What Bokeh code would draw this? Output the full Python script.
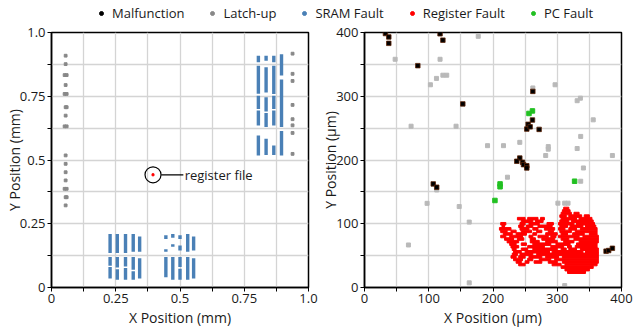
from bokeh.plotting import figure
from bokeh.layouts import column, row
from bokeh.models import FixedTicker, Legend, LegendItem, Range1d, Label
from bokeh.embed import file_html
from bokeh.resources import INLINE

FONT = "Open Sans"

# ---------------- data: left panel (mm) ----------------
# SRAM fault strips: x position, y start, y end
sram_x = [0.228, 0.228, 0.228,
          0.256, 0.256, 0.256,
          0.288, 0.288, 0.288,
          0.318, 0.318, 0.318,
          0.343, 0.343,
          0.445, 0.445, 0.445,
          0.472, 0.472, 0.472,
          0.500, 0.500, 0.500, 0.500,
          0.530, 0.530,
          0.553, 0.553,
          0.805, 0.805, 0.805, 0.805, 0.805,
          0.835, 0.835, 0.835, 0.835, 0.835,
          0.865, 0.865, 0.865, 0.865, 0.865,
          0.895, 0.895, 0.895]
sram_y0 = [0.135, 0.035, 0.085,
           0.135, 0.030, 0.078,
           0.135, 0.030, 0.082,
           0.140, 0.030, 0.070,
           0.140, 0.035,
           0.190, 0.140, 0.040,
           0.195, 0.160, 0.030,
           0.190, 0.145, 0.030, 0.080,
           0.140, 0.030,
           0.145, 0.035,
           0.883, 0.760, 0.700, 0.635, 0.518,
           0.889, 0.765, 0.690, 0.629, 0.520,
           0.883, 0.759, 0.700, 0.635, 0.520,
           0.831, 0.629, 0.518]
sram_y1 = [0.210, 0.080, 0.120,
           0.210, 0.072, 0.120,
           0.210, 0.076, 0.120,
           0.210, 0.064, 0.120,
           0.200, 0.115,
           0.205, 0.150, 0.120,
           0.210, 0.170, 0.120,
           0.205, 0.165, 0.074, 0.120,
           0.210, 0.120,
           0.200, 0.115,
           0.909, 0.870, 0.752, 0.694, 0.596,
           0.909, 0.864, 0.746, 0.684, 0.583,
           0.909, 0.870, 0.752, 0.694, 0.557,
           0.915, 0.816, 0.614]

latchL_x = [0.055, 0.055, 0.051, 0.059, 0.055, 0.051, 0.059, 0.055, 0.059, 0.055, 0.051, 0.059,
            0.055, 0.055, 0.055, 0.055, 0.051, 0.059, 0.055, 0.059, 0.055,
            0.938, 0.938, 0.938, 0.938, 0.938, 0.938, 0.938, 0.938]
latchL_y = [0.909, 0.876, 0.833, 0.833, 0.794, 0.759, 0.759, 0.707, 0.707, 0.674, 0.632, 0.632,
            0.518, 0.485, 0.452, 0.420, 0.387, 0.387, 0.354, 0.354, 0.322,
            0.917, 0.838, 0.810, 0.716, 0.660, 0.636, 0.606, 0.524]

reg_file_x = 0.395
reg_file_y = 0.442

# ---------------- data: right panel (um) ----------------
malf_x = [32.6, 37.8, 37.8, 83, 117.6, 122, 153, 262, 254.7, 252.6, 261.4, 271.8, 257.8,
          241.7, 237, 246, 247.5, 252.6, 252.6, 107, 112.4, 376, 380, 385.8]
malf_y = [398.4, 393, 383, 348, 398, 388, 288, 307.6, 256, 248.5, 262.7, 248, 252,
          203, 198, 196.4, 192.7, 191, 187.5, 162.5, 157.3, 57, 58, 61.5]

latch_x = [47.7, 72.5, 102.6, 112, 117.6, 122, 128, 142.5, 177, 296.6, 262, 331, 336, 356,
           336.5, 191.5, 216.3, 241.7, 286, 286, 331, 282, 385.8, 340.7, 222.5, 336.5,
           147.4, 301, 311.6, 316.8, 163, 163, 311.6, 112.4, 97.4, 68.4]
latch_y = [358, 253, 318, 328, 358, 333, 333, 253, 394, 318, 313, 293, 297, 263,
           237, 222.5, 222.5, 227.7, 221, 217, 218, 207, 207, 187.5, 173, 166.7,
           127, 132.3, 132.3, 132.3, 102.6, 7.3, 3, 153, 132, 66.7]

pc_x = [261.4, 256, 211, 211, 327, 203]
pc_y = [277, 273, 162.5, 158, 166.7, 136.5]

# register fault cells: row bottom (um) and horizontal runs [x0, x1] (um)
reg_cell = 4
reg_row_y = [122, 118, 114, 110, 106, 102, 98, 94, 90, 86, 82, 78, 74, 70, 66, 62, 58, 54, 50,
             46, 42, 38, 34, 30, 26, 22]
reg_runs = [
    [[310, 318]],
    [[308, 320]],
    [[306, 322], [326, 334]],
    [[304, 314], [318, 338], [342, 350]],
    [[238, 250], [254, 270], [274, 280], [306, 330], [334, 354]],
    [[244, 262], [266, 278], [304, 318], [322, 356]],
    [[212, 220], [242, 250], [256, 272], [284, 294], [302, 326], [330, 358]],
    [[214, 218], [240, 248], [252, 262], [270, 292], [304, 316], [320, 340], [344, 360]],
    [[210, 228], [242, 256], [262, 270], [280, 296], [302, 312], [318, 330], [336, 362]],
    [[212, 222], [228, 236], [244, 260], [268, 276], [286, 294], [304, 322], [328, 362]],
    [[216, 230], [236, 252], [262, 268], [282, 300], [306, 316], [324, 342], [350, 362]],
    [[212, 220], [226, 246], [256, 262], [270, 286], [290, 298], [302, 334], [340, 364]],
    [[218, 232], [238, 248], [258, 266], [276, 296], [306, 318], [326, 364]],
    [[222, 240], [258, 272], [282, 300], [310, 326], [334, 364]],
    [[226, 236], [244, 252], [262, 290], [298, 320], [330, 362]],
    [[228, 240], [254, 280], [290, 310], [316, 322], [328, 362]],
    [[230, 236], [244, 254], [262, 300], [306, 314], [318, 330], [336, 364]],
    [[232, 244], [250, 288], [292, 340], [344, 364]],
    [[230, 238], [242, 262], [268, 364]],
    [[228, 236], [240, 250], [256, 276], [282, 302], [308, 364]],
    [[232, 246], [254, 262], [272, 290], [296, 364]],
    [[236, 244], [250, 256], [264, 276], [286, 300], [308, 364]],
    [[240, 250], [292, 306], [312, 362]],
    [[306, 356]],
    [[312, 350]],
    [[316, 344]],
]

# tick labels
left_ticks = [0, 0.25, 0.5, 0.75, 1.0]
left_tick_labels = ["0", "0.25", "0.5", "0.75", "1.0"]
left_minor = [0.125, 0.375, 0.625, 0.875]
right_ticks = [0, 100, 200, 300, 400]
right_tick_labels = ["0", "100", "200", "300", "400"]
right_minor = [50, 150, 250, 350]

# colours
C_MALF = "black"
C_LATCH = "#888888"
C_LATCH_LIGHT = "#b9b9b9"
C_SRAM = "#4a80b6"
C_REG = "#ff0000"
C_PC = "#22c022"

GRID = "#d4d4d4"


def style(p, ticks, labels, minor, xlab, ylab):
    for ax in (p.xaxis[0], p.yaxis[0]):
        ax.ticker = FixedTicker(ticks=ticks, minor_ticks=minor)
        ax.major_label_overrides = {t: l for t, l in zip(ticks, labels)}
        ax.major_label_text_font = FONT
        ax.major_label_text_font_size = "13px"
        ax.major_label_text_color = "#1a1a1a"
        ax.axis_label_text_font = FONT
        ax.axis_label_text_font_size = "14px"
        ax.axis_label_text_font_style = "normal"
        ax.axis_label_text_color = "#1a1a1a"
        ax.axis_line_color = "black"
        ax.axis_line_width = 1.5
        ax.major_tick_line_color = "black"
        ax.minor_tick_line_color = "black"
        ax.major_tick_in = 0
        ax.major_tick_out = 4
        ax.minor_tick_in = 0
        ax.minor_tick_out = 4
        ax.major_label_standoff = 2
    p.xaxis[0].axis_label_standoff = 2
    p.yaxis[0].axis_label_standoff = -7
    p.xaxis.axis_label = xlab
    p.yaxis.axis_label = ylab
    for g in (p.xgrid[0], p.ygrid[0]):
        g.grid_line_color = GRID
        g.grid_line_width = 1.3
        g.minor_grid_line_color = GRID
        g.minor_grid_line_width = 1.3
    p.outline_line_color = "black"
    p.outline_line_width = 1.5
    p.outline_line_alpha = 1.0
    p.background_fill_color = "white"
    p.border_fill_color = "white"


# ---------------- left figure ----------------
left = figure(frame_width=257, frame_height=255, x_range=Range1d(0, 1), y_range=Range1d(0, 1),
              toolbar_location=None, output_backend="svg",
              min_border_left=51, min_border_right=10, min_border_top=8, min_border_bottom=40)
style(left, left_ticks, left_tick_labels, left_minor, "X Position (mm)", "Y Position (mm)")

left.segment(x0=sram_x, y0=sram_y0, x1=sram_x, y1=sram_y1, line_color=C_SRAM, line_width=3.4)
left.scatter(latchL_x, latchL_y, marker="square", size=2.8, color=C_LATCH)
left.scatter([reg_file_x], [reg_file_y], marker="circle", size=16, fill_color=None,
             line_color="black", line_width=1.2)
left.scatter([reg_file_x], [reg_file_y], marker="square", size=2, color=C_REG)
left.segment(x0=[reg_file_x + 0.032], y0=[reg_file_y], x1=[reg_file_x + 0.118], y1=[reg_file_y],
             line_color="black", line_width=1.2)
left.add_layout(Label(x=reg_file_x + 0.123, y=reg_file_y, text="register file", text_font=FONT,
                      text_font_size="13px", text_baseline="middle", text_color="#1a1a1a"))

# ---------------- right figure ----------------
right = figure(frame_width=257, frame_height=255, x_range=Range1d(0, 400), y_range=Range1d(0, 400),
               toolbar_location=None, output_backend="svg",
               min_border_left=45, min_border_right=13, min_border_top=8, min_border_bottom=40)
style(right, right_ticks, right_tick_labels, right_minor, "X Position (μm)", "Y Position (μm)")

q_l, q_r, q_b, q_t = [], [], [], []
for yb, runs in zip(reg_row_y, reg_runs):
    for x0, x1 in runs:
        q_l.append(x0)
        q_r.append(x1)
        q_b.append(yb)
        q_t.append(yb + reg_cell)
right.quad(left=q_l, right=q_r, bottom=q_b, top=q_t, fill_color=C_REG, line_color=C_REG,
           line_width=1.0)
right.scatter(latch_x, latch_y, marker="square", size=4, color=C_LATCH_LIGHT)
right.scatter(pc_x, pc_y, marker="square", size=4.5, color=C_PC)
right.scatter(malf_x, malf_y, marker="square", size=4.5, fill_color=C_MALF,
              line_color="#5c2308", line_width=0.8)

# ---------------- legend strip ----------------
lf = figure(width=633, height=24, x_range=Range1d(0, 1), y_range=Range1d(0, 1),
            toolbar_location=None, output_backend="svg", min_border=0,
            x_axis_location=None, y_axis_location=None, outline_line_color=None)
lf.grid.visible = False
names = ["Malfunction", "Latch-up", "SRAM Fault", "Register Fault", "PC Fault"]
cols = [C_MALF, C_LATCH, C_SRAM, C_REG, C_PC]
items = []
for n, c in zip(names, cols):
    r = lf.scatter(x=[-5], y=[-5], marker="circle", size=9, color=c)
    items.append(LegendItem(label=n, renderers=[r]))
leg = Legend(items=items, orientation="horizontal", location=(96, 2),
             border_line_color=None, background_fill_alpha=0, padding=0, margin=0,
             spacing=23, label_standoff=6, glyph_width=10, glyph_height=14, label_height=14,
             label_text_font=FONT, label_text_font_size="13px", label_text_color="#1a1a1a")
lf.add_layout(leg, "center")

layout = column(lf, row(left, right, spacing=0), spacing=0)
open("out.html", "w").write(file_html(layout, INLINE))
